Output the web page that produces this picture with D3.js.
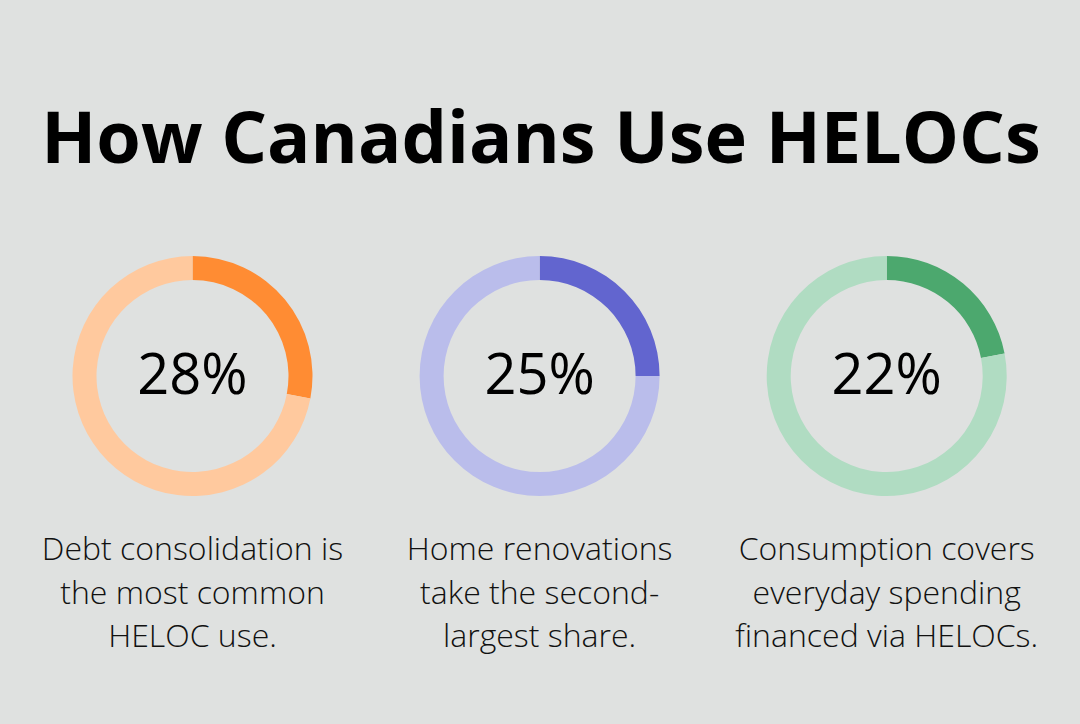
<!DOCTYPE html>
<html>
<head>
<meta charset="utf-8">
<script src="https://cdn.jsdelivr.net/npm/d3@7"></script>
<style>
  html, body { margin: 0; padding: 0; background: #dfe1e0; }
  svg { display: block; }
</style>
</head>
<body>
<svg id="chart" width="1080" height="724"></svg>
<script>
const title = "How Canadians Use HELOCs";
const categories = ["Debt consolidation", "Home renovations", "Consumption"];
const values = [28, 25, 22];
const labels = ["28%", "25%", "22%"];
const descriptions = [
  ["Debt consolidation is", "the most common", "HELOC use."],
  ["Home renovations", "take the second-", "largest share."],
  ["Consumption covers", "everyday spending", "financed via HELOCs."]
];
const darkColors = ["#ff8c33", "#6265cf", "#4ca86e"];
const lightColors = ["#ffc99e", "#babdeb", "#b0dcc2"];

const W = 1080, H = 724;
const svg = d3.select("#chart");
svg.append("rect").attr("width", W).attr("height", H).attr("fill", "#dfe1e0");

svg.append("text")
  .attr("x", 541).attr("y", 163)
  .attr("text-anchor", "middle")
  .attr("font-family", "'Open Sans', sans-serif")
  .attr("font-weight", 700)
  .attr("font-size", 72)
  .attr("fill", "#000")
  .text(title);

const x = d3.scalePoint().domain(categories).range([192.5, 886.7]);
const cy = 376;
const outerR = 120, innerR = 96;
const pie = d3.pie().sort(null).value(d => d);
const arc = d3.arc().innerRadius(innerR).outerRadius(outerR);

categories.forEach((c, i) => {
  const g = svg.append("g").attr("transform", `translate(${x(c)},${cy})`);
  const data = pie([values[i], 100 - values[i]]);
  g.selectAll("path").data(data).join("path")
    .attr("d", arc)
    .attr("fill", (d, j) => j === 0 ? darkColors[i] : lightColors[i]);
  g.append("text")
    .attr("x", 0).attr("y", 18)
    .attr("text-anchor", "middle")
    .attr("font-family", "'Open Sans', sans-serif")
    .attr("font-size", 56)
    .attr("fill", "#000")
    .text(labels[i]);
  const t = svg.append("text")
    .attr("text-anchor", "middle")
    .attr("font-family", "'Open Sans', sans-serif")
    .attr("font-weight", 300)
    .attr("font-size", 32)
    .attr("fill", "#111");
  descriptions[i].forEach((line, k) => {
    t.append("tspan").attr("x", x(c)).attr("y", 560 + k * 43.5).text(line);
  });
});
</script>
</body>
</html>
